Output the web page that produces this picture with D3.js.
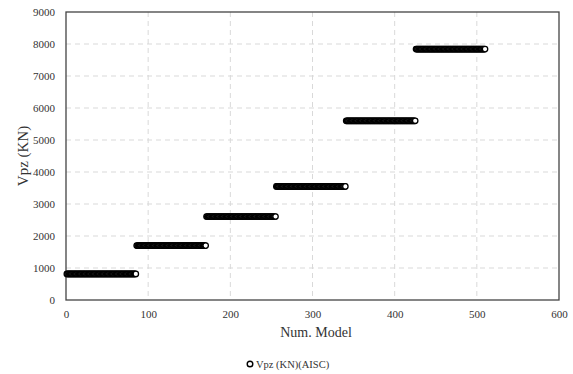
<!DOCTYPE html>
<html><head><meta charset="utf-8">
<script src="https://cdn.jsdelivr.net/npm/d3@7"></script>
<style>body{margin:0;background:#fff}svg{display:block}svg text{font-family:"Liberation Serif",serif !important;fill:#333}</style>
</head><body><svg id="c" width="573" height="374"></svg>
<script>
// Data: six groups of models, each with constant Vpz value
const groupStart = [1, 86, 171, 256, 341, 426];
const groupEnd   = [85, 170, 255, 340, 425, 510];
const groupValue = [815, 1700, 2610, 3550, 5600, 7840];
const xTicks = [0, 100, 200, 300, 400, 500, 600];
const yTicks = [0, 1000, 2000, 3000, 4000, 5000, 6000, 7000, 8000, 9000];
const seriesName = "Vpz (KN)(AISC)";

const points = [];
groupStart.forEach((s, g) => { for (let i = s; i <= groupEnd[g]; i++) points.push({x: i, y: groupValue[g]}); });

const svg = d3.select("#c");
const L = 66, R = 559, T = 12, B = 300;
const x = d3.scaleLinear().domain([0, 600]).range([L, R]);
const y = d3.scaleLinear().domain([0, 9000]).range([B, T]);

// grid
svg.append("g").selectAll("line").data(xTicks.slice(1, -1)).join("line")
  .attr("x1", d => x(d)).attr("x2", d => x(d)).attr("y1", T).attr("y2", B)
  .attr("stroke", "#d9d9d9").attr("stroke-dasharray", "5,4");
svg.append("g").selectAll("line").data(yTicks.slice(1, -1)).join("line")
  .attr("y1", d => y(d)).attr("y2", d => y(d)).attr("x1", L).attr("x2", R)
  .attr("stroke", "#d9d9d9").attr("stroke-dasharray", "5,4");

// axes
const xa = svg.append("g").attr("transform", `translate(0,${B})`)
  .call(d3.axisBottom(x).tickValues(xTicks).tickFormat(d3.format("d")).tickSize(0).tickPadding(10));
const ya = svg.append("g").attr("transform", `translate(${L},0)`)
  .call(d3.axisLeft(y).tickValues(yTicks).tickFormat(d3.format("d")).tickSize(0).tickPadding(11));
[xa, ya].forEach(a => {
  a.attr("font-family", null);
  a.select(".domain").remove();
  a.selectAll("text").style("font-size", "11px").style("fill", "#333");
});

// frame
svg.append("rect").attr("x", L).attr("y", T).attr("width", R - L).attr("height", B - T)
  .attr("fill", "none").attr("stroke", "#444").attr("stroke-width", 1.3);

// points
svg.append("g").selectAll("circle").data(points).join("circle")
  .attr("cx", d => x(d.x)).attr("cy", d => y(d.y)).attr("r", 2.7)
  .attr("fill", "#fff").attr("stroke", "#000").attr("stroke-width", 1.3);

// titles
svg.append("text").attr("x", 316).attr("y", 337).attr("text-anchor", "middle")
  .style("font-size", "14px").text("Num. Model");
svg.append("text").attr("transform", `translate(28,${(T + B) / 2}) rotate(-90)`)
  .attr("text-anchor", "middle").style("font-size", "15px").text("Vpz (KN)");

// legend
svg.append("circle").attr("cx", 250).attr("cy", 364).attr("r", 2.8)
  .attr("fill", "#fff").attr("stroke", "#000").attr("stroke-width", 1.4);
svg.append("text").attr("x", 256).attr("y", 368).style("font-size", "10.5px").text(seriesName);
</script></body></html>
